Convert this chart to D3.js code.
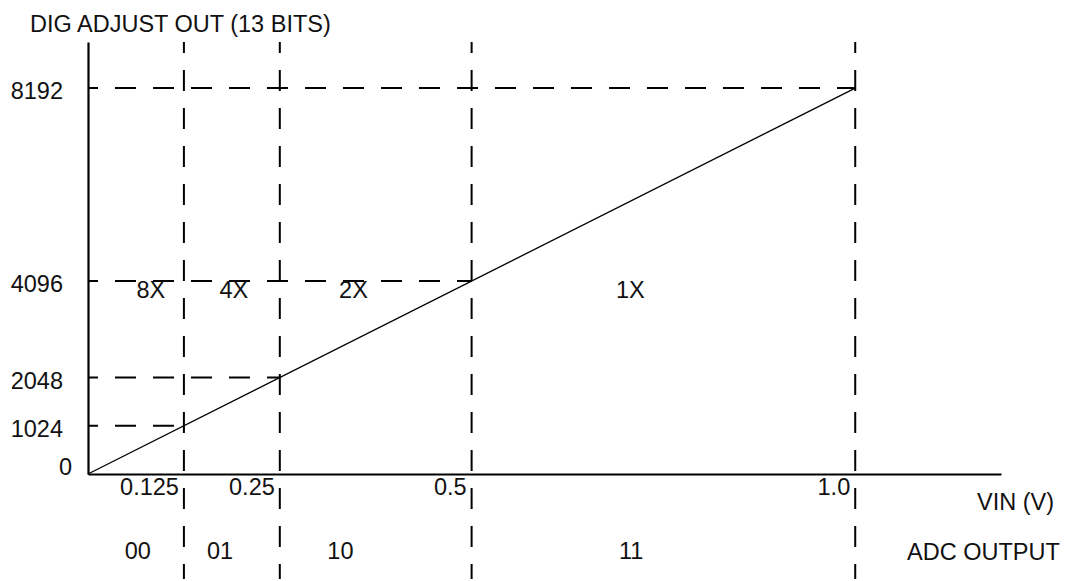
<!DOCTYPE html>
<meta charset="utf-8">
<script src="https://d3js.org/d3.v7.min.js"></script>
<style>
  body { margin: 0; background: #fff; }
  text { font-family: "Liberation Sans", Arial, sans-serif; font-size: 23.5px; fill: #111; }
</style>
<div id="chart"></div>
<script>
    // breakpoints on the input voltage (V) and the matching 13-bit outputs
    var vinBreaks = [0.125, 0.25, 0.5, 1.0];
    var outBreaks = [1024, 2048, 4096, 8192];
    var yTicks = [8192, 4096, 2048, 1024, 0];
    var xTickLabels = ["0.125", "0.25", "0.5", "1.0"];

    // transfer line end points
    var lineVin = [0, 1.0];
    var lineOut = [0, 8192];

    // gain ranges and the ADC codes below the axis
    var gains = ["8X", "4X", "2X", "1X"];
    var gainAt = [0.082, 0.19, 0.346, 0.707];
    var codes = ["00", "01", "10", "11"];
    var codeAt = [0.065, 0.172, 0.329, 0.708];

    var width = 1065, height = 581;

    var svg = d3.select("#chart")
        .append("svg")
            .attr("width", width)
            .attr("height", height);

    // scales span the drawn axes
    var x = d3.scaleLinear().domain([0, 1.19]).range([88, 1001]);
    var y = d3.scaleLinear().domain([0, 9170]).range([474, 42]);

    // dashed guide lines, vertical
    svg.selectAll(".vguide")
        .data(vinBreaks)
        .enter()
        .append("line")
        .attr("x1", function(d) { return x(d); })
        .attr("x2", function(d) { return x(d); })
        .attr("y1", y(9170))
        .attr("y2", 579)
        .attr("stroke", "#000")
        .attr("stroke-width", 2)
        .attr("stroke-dasharray", "21,17")
        .attr("stroke-dashoffset", 10);

    // dashed guide lines, horizontal (from the y axis to the matching vertical)
    svg.selectAll(".hguide")
        .data(outBreaks)
        .enter()
        .append("line")
        .attr("x1", x(0))
        .attr("x2", function(d, i) { return x(vinBreaks[i]); })
        .attr("y1", function(d) { return y(d); })
        .attr("y2", function(d) { return y(d); })
        .attr("stroke", "#000")
        .attr("stroke-width", 2)
        .attr("stroke-dasharray", "21,17")
        .attr("stroke-dashoffset", 11);

    // axes, no ticks
    svg.append("g")
        .attr("transform", "translate(0," + y(0) + ")")
        .call(d3.axisBottom(x).tickValues([]).tickSizeOuter(0))
        .select(".domain")
        .attr("stroke-width", 2.2);
    svg.append("g")
        .attr("transform", "translate(" + x(0) + ",0)")
        .call(d3.axisLeft(y).tickValues([]).tickSizeOuter(0))
        .select(".domain")
        .attr("stroke-width", 2.2);

    // transfer line
    var pts = lineVin.map(function(v, i) { return [v, lineOut[i]]; });
    svg.append("path")
        .datum(pts)
        .attr("fill", "none")
        .attr("stroke", "#000")
        .attr("stroke-width", 1.3)
        .attr("d", d3.line()
            .x(function(d) { return x(d[0]); })
            .y(function(d) { return y(d[1]); }));

    // y labels
    svg.selectAll(".ylab")
        .data(yTicks)
        .enter()
        .append("text")
        .attr("x", function(d) { return d === 0 ? 72 : 63; })
        .attr("y", function(d) { return Math.min(y(d) + 11, y(0) + 1); })
        .attr("text-anchor", "end")
        .text(function(d) { return d; });

    // x labels, left of each dashed line
    svg.selectAll(".xlab")
        .data(vinBreaks)
        .enter()
        .append("text")
        .attr("x", function(d) { return x(d) - 5; })
        .attr("y", 495)
        .attr("text-anchor", "end")
        .text(function(d, i) { return xTickLabels[i]; });

    // gain labels
    svg.selectAll(".gain")
        .data(gains)
        .enter()
        .append("text")
        .attr("x", function(d, i) { return x(gainAt[i]); })
        .attr("y", 298)
        .attr("text-anchor", "middle")
        .text(function(d) { return d; });

    // ADC codes
    svg.selectAll(".code")
        .data(codes)
        .enter()
        .append("text")
        .attr("x", function(d, i) { return x(codeAt[i]); })
        .attr("y", 559)
        .attr("text-anchor", "middle")
        .text(function(d) { return d; });

    // titles
    svg.append("text").attr("x", 30).attr("y", 32).text("DIG ADJUST OUT (13 BITS)");
    svg.append("text").attr("x", 977).attr("y", 510).text("VIN (V)");
    svg.append("text").attr("x", 907).attr("y", 560).text("ADC OUTPUT");
</script>
